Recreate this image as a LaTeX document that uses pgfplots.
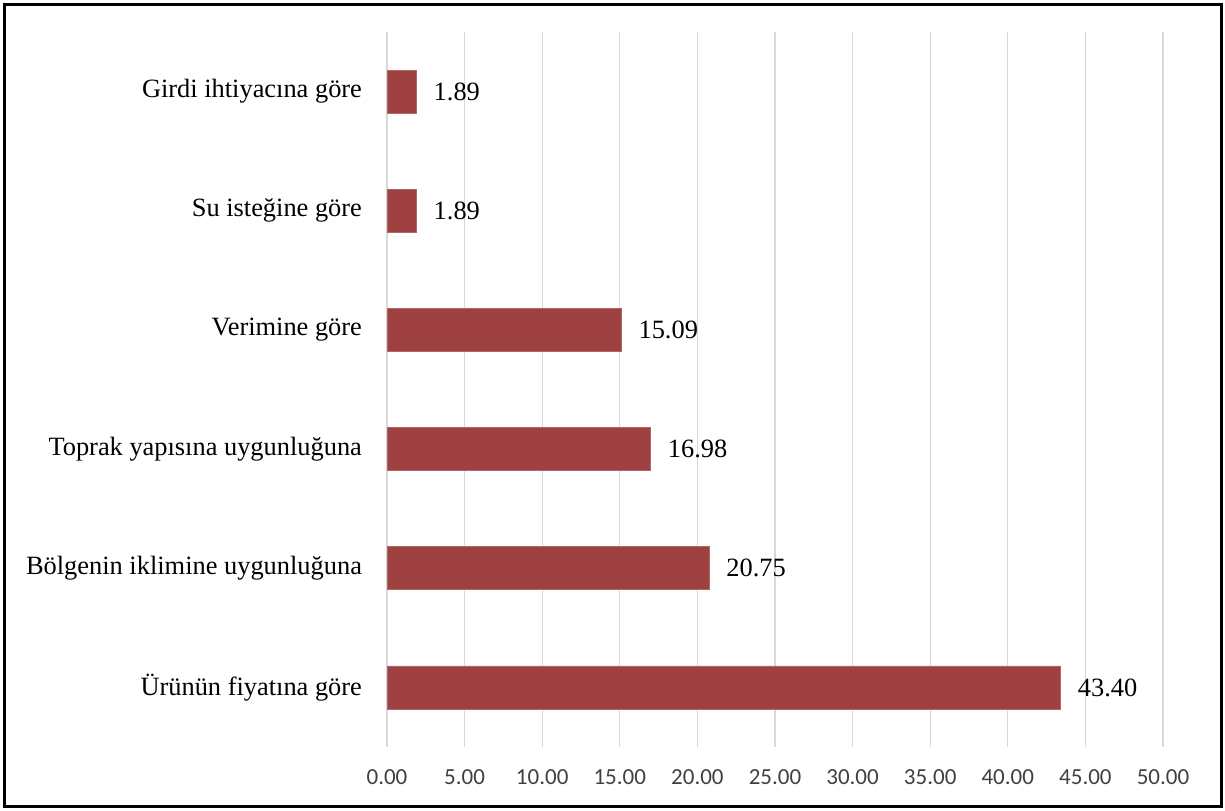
\documentclass[border=0pt]{standalone}
\usepackage{pgfplots}
\pgfplotsset{compat=1.18}
\usepackage{fontspec}
\setmainfont{Liberation Serif}
\newfontfamily\tickfont{Carlito}
\definecolor{barred}{HTML}{9E4140}
\definecolor{gridgray}{HTML}{D9D9D9}
\definecolor{ticktext}{HTML}{404040}

\begin{document}
\begin{tikzpicture}
\useasboundingbox (0,0) rectangle (612.5pt,405pt);
\draw[line width=1.5pt] (2pt,2pt) rectangle (610.5pt,402.75pt);
\begin{axis}[
    at={(193.5pt,31.5pt)}, anchor=south west,
    scale only axis,
    width=388pt, height=357.5pt,
    xbar, bar width=21.5pt,
    xmin=0, xmax=50,
    ymin=-0.5, ymax=5.5,
    xtick={0,5,...,50},
    ytick={0,1,2,3,4,5},
    yticklabels={Ürünün fiyatına göre, Bölgenin iklimine uygunluğuna, Toprak yapısına uygunluğuna, Verimine göre, Su isteğine göre, Girdi ihtiyacına göre},
    axis line style={draw=none},
    major tick length=0pt,
    xmajorgrids=true,
    grid style={gridgray, line width=0.6pt},
    /pgf/number format/assume math mode=true,
    xticklabel={\pgfmathprintnumber[fixed, fixed zerofill, precision=2]{\tick}},
    xticklabel style={font=\tickfont\fontsize{11.5}{13}\selectfont, text=ticktext, yshift=-8pt},
    yticklabel style={font=\fontsize{13.2}{15}\selectfont, text=black, xshift=-9pt},
    nodes near coords={\pgfmathprintnumber[fixed, fixed zerofill, precision=2]{\pgfplotspointmeta}},
    nodes near coords style={font=\fontsize{13.2}{15}\selectfont, text=black, anchor=west, inner sep=0pt, xshift=8.5pt},
    point meta=explicit,
]
\addplot[fill=barred, draw=barred!80!white, line width=0.4pt] coordinates {
    (43.40,0) [43.40]
    (20.75,1) [20.75]
    (16.98,2) [16.98]
    (15.09,3) [15.09]
    (1.89,4) [1.89]
    (1.89,5) [1.89]
};
\end{axis}
\end{tikzpicture}
\end{document}
